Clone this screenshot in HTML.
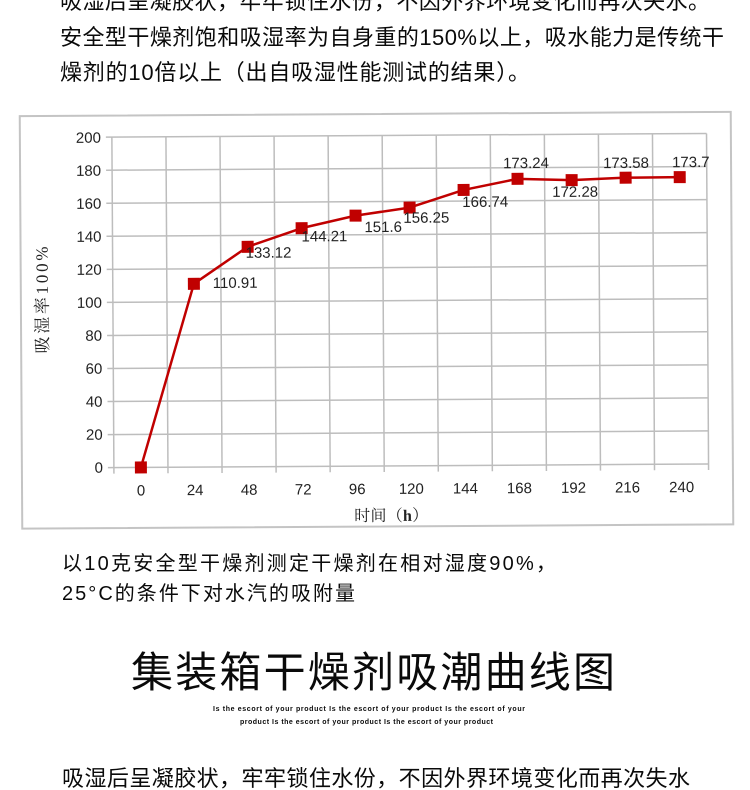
<!DOCTYPE html>
<html><head><meta charset="utf-8"><style>
html,body{margin:0;padding:0;background:#fff;}
svg{display:block;}
.cn{font-family:"Liberation Sans","Noto Sans CJK SC",sans-serif;}
.num{font-family:"Liberation Sans",sans-serif;}
.ser{font-family:"Liberation Serif","Noto Serif CJK SC",serif;}
</style></head><body>
<svg width="750" height="790" viewBox="0 0 750 790" xmlns="http://www.w3.org/2000/svg">
<rect width="750" height="790" fill="#fff"/>
<g class="cn" fill="#0a0a0a" font-size="22">
<text x="60" y="9" textLength="650" lengthAdjust="spacing">吸湿后呈凝胶状，牢牢锁住水份，不因外界环境变化而再次失水。</text>
<text x="60" y="45" textLength="664" lengthAdjust="spacing">安全型干燥剂饱和吸湿率为自身重的150%以上，吸水能力是传统干</text>
<text x="60" y="80" textLength="470" lengthAdjust="spacing">燥剂的10倍以上（出自吸湿性能测试的结果）。</text>
</g>
<g transform="rotate(-0.35 376 320)">
<rect x="21" y="114" width="711" height="412.5" fill="#fff" stroke="#c4c4c4" stroke-width="2"/>
<g stroke="#bdbdbd" stroke-width="1.5">
<line x1="113" y1="135.5" x2="113" y2="472"/>
<line x1="167.06" y1="135.5" x2="167.06" y2="472"/>
<line x1="221.12" y1="135.5" x2="221.12" y2="472"/>
<line x1="275.18" y1="135.5" x2="275.18" y2="472"/>
<line x1="329.24" y1="135.5" x2="329.24" y2="472"/>
<line x1="383.3" y1="135.5" x2="383.3" y2="472"/>
<line x1="437.36" y1="135.5" x2="437.36" y2="472"/>
<line x1="491.42" y1="135.5" x2="491.42" y2="472"/>
<line x1="545.48" y1="135.5" x2="545.48" y2="472"/>
<line x1="599.54" y1="135.5" x2="599.54" y2="472"/>
<line x1="653.6" y1="135.5" x2="653.6" y2="472"/>
<line x1="707.66" y1="135.5" x2="707.66" y2="472"/>
<line x1="107" y1="466" x2="707.66" y2="466"/>
<line x1="107" y1="432.95" x2="707.66" y2="432.95"/>
<line x1="107" y1="399.9" x2="707.66" y2="399.9"/>
<line x1="107" y1="366.85" x2="707.66" y2="366.85"/>
<line x1="107" y1="333.8" x2="707.66" y2="333.8"/>
<line x1="107" y1="300.75" x2="707.66" y2="300.75"/>
<line x1="107" y1="267.7" x2="707.66" y2="267.7"/>
<line x1="107" y1="234.65" x2="707.66" y2="234.65"/>
<line x1="107" y1="201.6" x2="707.66" y2="201.6"/>
<line x1="107" y1="168.55" x2="707.66" y2="168.55"/>
<line x1="107" y1="135.5" x2="707.66" y2="135.5"/>
</g>
<g class="num" font-size="15" fill="#222" text-anchor="end">
<text x="102" y="471">0</text>
<text x="102" y="438">20</text>
<text x="102" y="405">40</text>
<text x="102" y="372">60</text>
<text x="102" y="339">80</text>
<text x="102" y="306">100</text>
<text x="102" y="273">120</text>
<text x="102" y="240">140</text>
<text x="102" y="207">160</text>
<text x="102" y="174">180</text>
<text x="102" y="141">200</text>
</g>
<g class="num" font-size="15" fill="#222" text-anchor="middle">
<text x="140" y="494">0</text>
<text x="194.1" y="494">24</text>
<text x="248.1" y="494">48</text>
<text x="302.2" y="494">72</text>
<text x="356.2" y="494">96</text>
<text x="410.3" y="494">120</text>
<text x="464.4" y="494">144</text>
<text x="518.4" y="494">168</text>
<text x="572.5" y="494">192</text>
<text x="626.5" y="494">216</text>
<text x="680.6" y="494">240</text>
</g>
<polyline fill="none" stroke="#c00000" stroke-width="2.5" stroke-linejoin="round" points="140,466 194.1,282.7 248.1,246 302.2,227.7 356.2,215.5 410.3,207.8 464.4,190.5 518.4,179.7 572.5,181.3 626.5,179.2 680.6,179"/>
<g fill="#c00000">
<rect x="134" y="460" width="12" height="12"/>
<rect x="188.1" y="276.7" width="12" height="12"/>
<rect x="242.1" y="240" width="12" height="12"/>
<rect x="296.2" y="221.7" width="12" height="12"/>
<rect x="350.2" y="209.5" width="12" height="12"/>
<rect x="404.3" y="201.8" width="12" height="12"/>
<rect x="458.4" y="184.5" width="12" height="12"/>
<rect x="512.4" y="173.7" width="12" height="12"/>
<rect x="566.5" y="175.3" width="12" height="12"/>
<rect x="620.5" y="173.2" width="12" height="12"/>
<rect x="674.6" y="173" width="12" height="12"/>
</g>
<g class="num" font-size="15" fill="#222">
<text x="213" y="287">110.91</text>
<text x="246" y="257">133.12</text>
<text x="302" y="241">144.21</text>
<text x="365" y="232">151.6</text>
<text x="404" y="223">156.25</text>
<text x="463" y="207.5">166.74</text>
<text x="504" y="169">173.24</text>
<text x="553" y="198">172.28</text>
<text x="604" y="169.5">173.58</text>
<text x="673" y="169">173.7</text>
</g>
<text class="ser" x="48" y="298" font-size="17" fill="#222" text-anchor="middle" transform="rotate(-90 48 298)" textLength="107" lengthAdjust="spacing">吸湿率100%</text>
<text class="ser" x="353" y="521" font-size="16" fill="#222" textLength="74" lengthAdjust="spacing">时间（<tspan font-weight="bold">h</tspan>）</text>
</g>
<g class="cn" fill="#0a0a0a" font-size="20">
<text x="62" y="570" textLength="494" lengthAdjust="spacing">以10克安全型干燥剂测定干燥剂在相对湿度90%，</text>
<text x="62" y="600" textLength="293" lengthAdjust="spacing">25°C的条件下对水汽的吸附量</text>
</g>
<text class="cn" x="131" y="687" font-size="42" fill="#0a0a0a" textLength="484" lengthAdjust="spacing">集装箱干燥剂吸潮曲线图</text>
<g class="num" font-size="7" font-weight="bold" fill="#0a0a0a">
<text x="213" y="711" textLength="312" lengthAdjust="spacing">Is the escort of your product Is the escort of your product Is the escort of your</text>
<text x="240" y="724" textLength="253" lengthAdjust="spacing">product Is the escort of your product Is the escort of your product</text>
</g>
<text class="cn" x="62" y="786" font-size="22" fill="#0a0a0a" textLength="628" lengthAdjust="spacing">吸湿后呈凝胶状，牢牢锁住水份，不因外界环境变化而再次失水</text>
</svg>
</body></html>
